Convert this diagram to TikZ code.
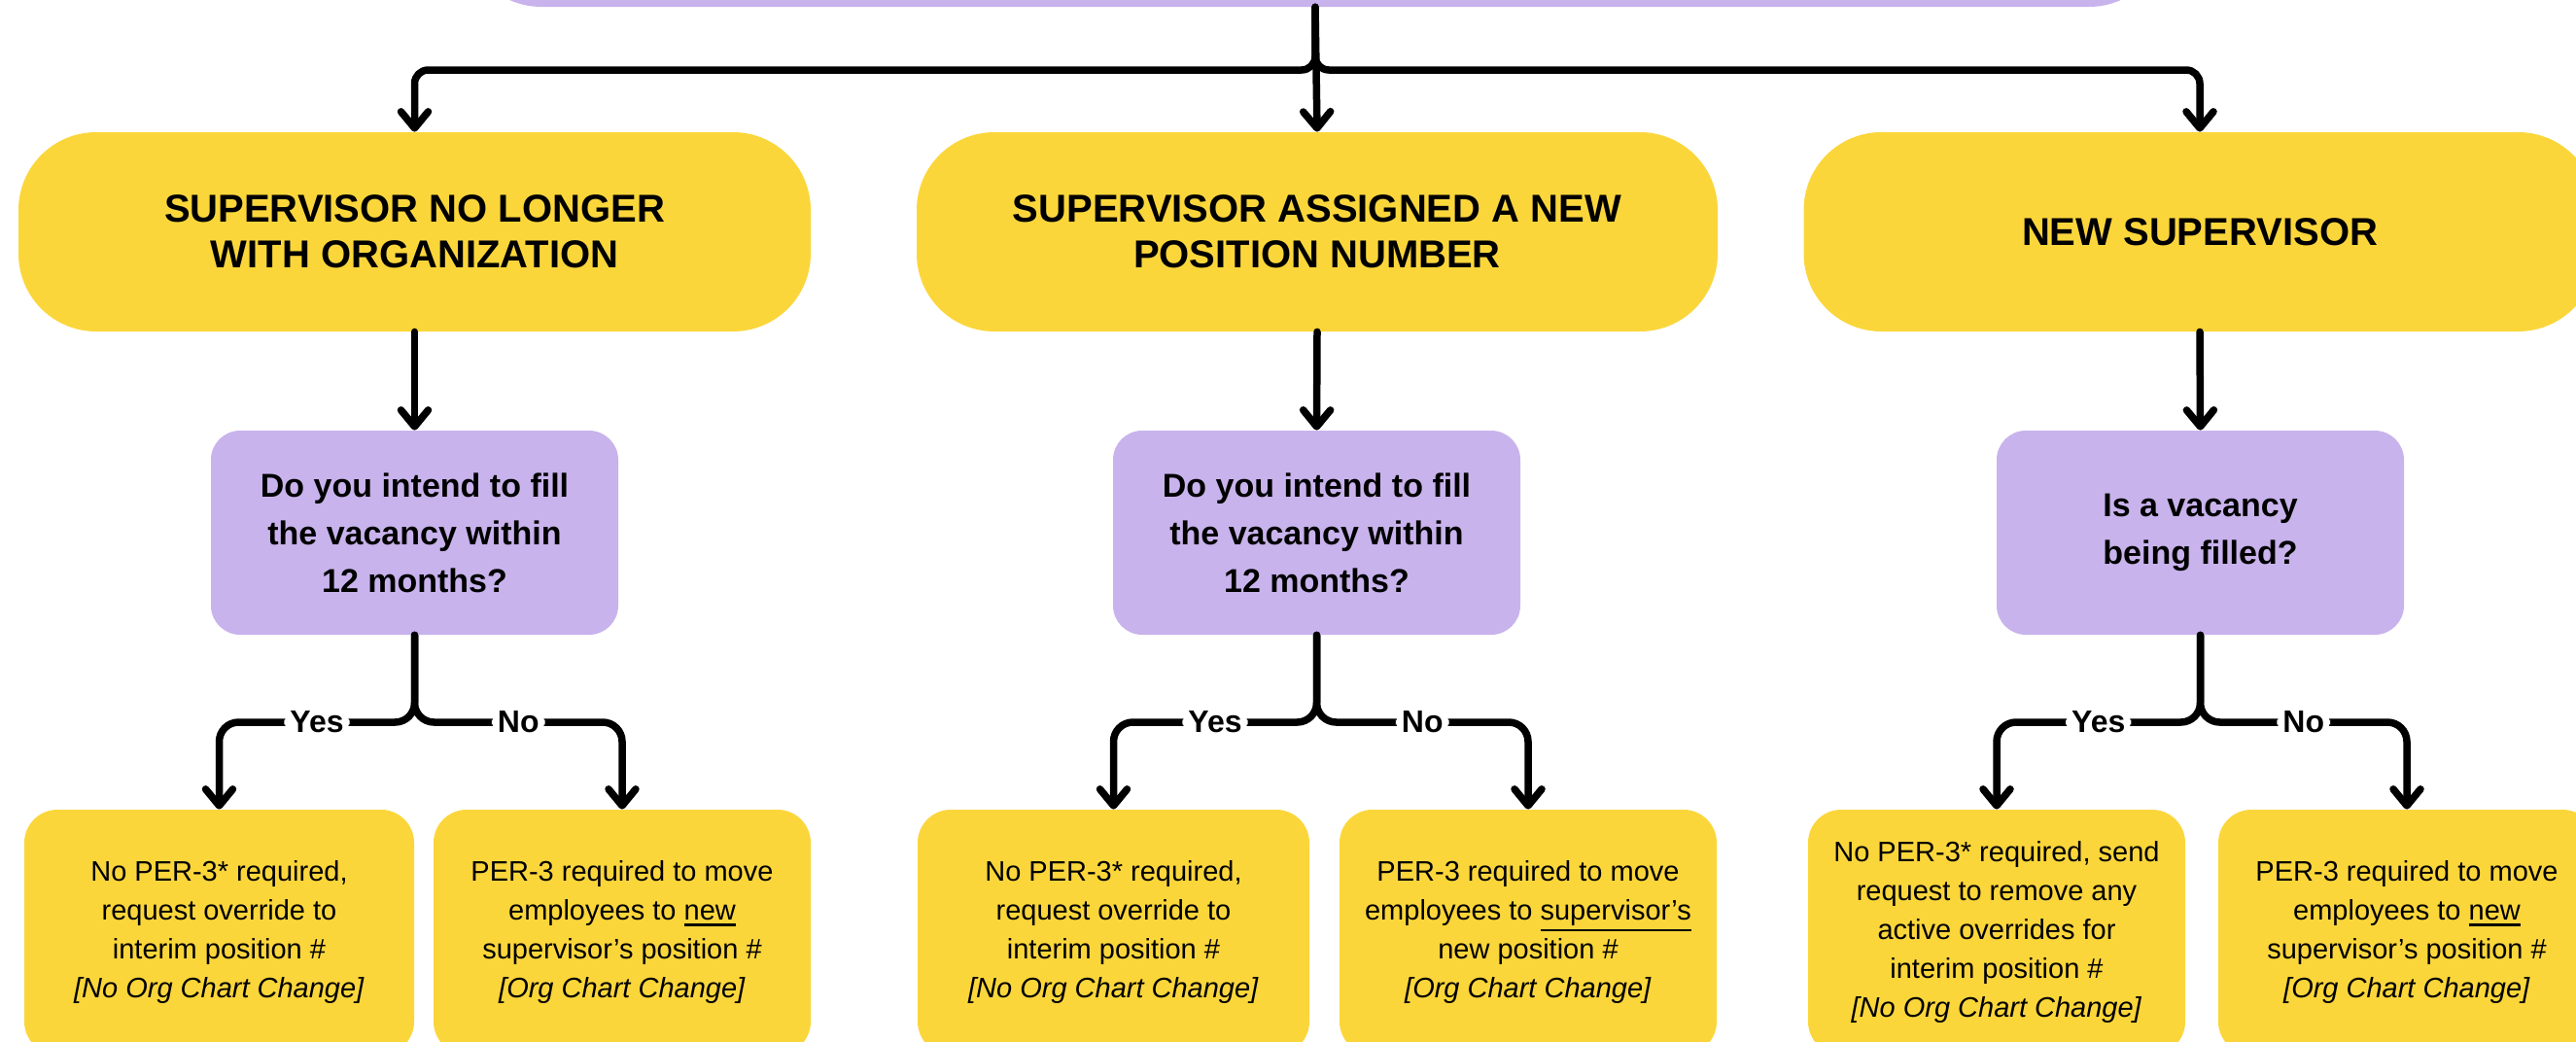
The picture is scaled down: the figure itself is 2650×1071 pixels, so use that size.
\documentclass[tikz,border=0pt]{standalone}
\usepackage{fontspec}
\setmainfont{Liberation Sans}
\usetikzlibrary{arrows.meta}
\definecolor{ylw}{HTML}{FBD63B}
\definecolor{lav}{HTML}{C8B3EC}
\newcommand{\thickul}[1]{\leavevmode\vtop{\hbox{#1}\kern1.6pt\hrule height 1.3pt}}
\begin{document}
\begin{tikzpicture}[x=0.5pt,y=-0.5pt,
 pill/.style={fill=ylw, rounded corners=40pt, inner sep=0pt, minimum height=102.5pt, align=center,
   font=\fontsize{20pt}{23.5pt}\selectfont\bfseries},
 qbox/.style={fill=lav, rounded corners=15pt, inner sep=0pt, minimum width=209.5pt, minimum height=105pt, align=center,
   font=\fontsize{17pt}{24.5pt}\selectfont\bfseries},
 abox/.style={fill=ylw, rounded corners=17pt, inner sep=0pt, minimum height=126pt, align=center,
   font=\fontsize{14.5pt}{20pt}\selectfont},
 arr/.style={line width=3.75pt, line cap=round, -{Straight Barb[length=8.5pt,width=14pt,round]}},
 lbl/.style={fill=white, inner sep=3pt, font=\fontsize{16pt}{18pt}\selectfont\bfseries},
]
\useasboundingbox (0,0) rectangle (2650,1071);
\clip (0,0) rectangle (2650,1071);

% top box (text out of frame)
\node[pill, fill=lav, minimum width=876pt] (top) at (1353,-95.5) {};

% first row
\node[pill, minimum width=407.5pt] (p1) at (426.5,238.5) {SUPERVISOR NO LONGER\\WITH ORGANIZATION};
\node[pill, minimum width=412pt] (p2) at (1355,238.5) {SUPERVISOR ASSIGNED A NEW\\POSITION NUMBER};
\node[pill, minimum width=407.5pt] (p3) at (2263,238.5) {NEW SUPERVISOR};

% questions
\node[qbox] (q1) at (426.5,548) {Do you intend to fill\\the vacancy within\\12 months?};
\node[qbox] (q2) at (1354.5,548) {Do you intend to fill\\the vacancy within\\12 months?};
\node[qbox] (q3) at (2263.5,548) {Is a vacancy\\being filled?};

% answers
\node[abox, minimum width=200.5pt] (b1) at (225.5,959) {No PER-3* required,\\request override to\\interim position \#\\\textit{[No Org Chart Change]}};
\node[abox, minimum width=194pt] (b2) at (640,959) {PER-3 required to move\\employees to \thickul{new}\\supervisor’s position \#\\\textit{[Org Chart Change]}};
\node[abox, minimum width=201.5pt] (b3) at (1145.5,959) {No PER-3* required,\\request override to\\interim position \#\\\textit{[No Org Chart Change]}};
\node[abox, minimum width=194pt] (b4) at (1572,959) {PER-3 required to move\\employees to \thickul{supervisor’s}\\new position \#\\\textit{[Org Chart Change]}};
\node[abox, minimum width=194pt] (b5) at (2054,959) {No PER-3* required, send\\request to remove any\\active overrides for\\interim position \#\\\textit{[No Org Chart Change]}};
\node[abox, minimum width=194pt] (b6) at (2476,959) {PER-3 required to move\\employees to \thickul{new}\\supervisor’s position \#\\\textit{[Org Chart Change]}};

% top connectors
\coordinate (tj) at (1353,72);
\draw[arr, rounded corners=7pt] (top.south) -- (tj) -| (p1.north);
\draw[arr, rounded corners=7pt] (top.south) -- (tj) -| (p3.north);
\draw[arr] (top.south) -- (p2.north);

% pill -> question
\draw[arr] (p1.south) -- (q1.north);
\draw[arr] (p2.south) -- (q2.north);
\draw[arr] (p3.south) -- (q3.north);

% question -> answers
\coordinate (j1) at (426.5,743);
\coordinate (j2) at (1354.5,743);
\coordinate (j3) at (2263.5,743);
\draw[arr, rounded corners=10pt] (q1.south) -- (j1) -| node[lbl,pos=0.25]{Yes} (b1.north);
\draw[arr, rounded corners=10pt] (q1.south) -- (j1) -| node[lbl,pos=0.25]{No} (b2.north);
\draw[arr, rounded corners=10pt] (q2.south) -- (j2) -| node[lbl,pos=0.25]{Yes} (b3.north);
\draw[arr, rounded corners=10pt] (q2.south) -- (j2) -| node[lbl,pos=0.25]{No} (b4.north);
\draw[arr, rounded corners=10pt] (q3.south) -- (j3) -| node[lbl,pos=0.25]{Yes} (b5.north);
\draw[arr, rounded corners=10pt] (q3.south) -- (j3) -| node[lbl,pos=0.25]{No} (b6.north);
\end{tikzpicture}
\end{document}
